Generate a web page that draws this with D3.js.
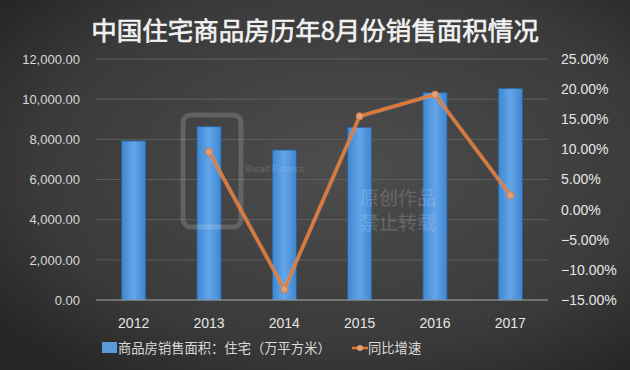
<!DOCTYPE html>
<html>
<head>
<meta charset="utf-8">
<script src="https://cdn.jsdelivr.net/npm/d3@7"></script>
<style>
  html, body { margin: 0; padding: 0; background: #333; }
  svg { display: block; }
  text { font-family: "Noto Sans CJK SC", "Noto Sans", sans-serif; }
</style>
</head>
<body>
<svg id="chart" width="630" height="370"></svg>
<script>
// ── Data ──────────────────────────────────────────────────────────────────
const years = ['2012', '2013', '2014', '2015', '2016', '2017'];
const salesArea = [7920, 8630, 7470, 8600, 10320, 10540];   // 万平方米
const yoyGrowth = [null, 9.6, -13.2, 15.5, 19.1, 2.4];      // %
const leftTicks = [0, 2000, 4000, 6000, 8000, 10000, 12000];
const rightTicks = [-15, -10, -5, 0, 5, 10, 15, 20, 25];

const W = 630, H = 370;
const m = { top: 59, right: 82, bottom: 70, left: 96 };

const svg = d3.select('#chart');
const defs = svg.append('defs');

// background: dark radial glow
const bg = defs.append('radialGradient').attr('id', 'bg')
  .attr('cx', '55%').attr('cy', '45%').attr('r', '70%');
bg.append('stop').attr('offset', '0%').attr('stop-color', '#4d4d4d');
bg.append('stop').attr('offset', '70%').attr('stop-color', '#3a3a3a');
bg.append('stop').attr('offset', '100%').attr('stop-color', '#262626');
svg.append('rect').attr('width', W).attr('height', H).attr('fill', 'url(#bg)');

const barGrad = defs.append('linearGradient').attr('id', 'barGrad')
  .attr('x1', 0).attr('x2', 1).attr('y1', 0).attr('y2', 0);
barGrad.append('stop').attr('offset', '0%').attr('stop-color', '#3f86cf');
barGrad.append('stop').attr('offset', '50%').attr('stop-color', '#63a5e8');
barGrad.append('stop').attr('offset', '100%').attr('stop-color', '#3f86cf');

// ── Scales ────────────────────────────────────────────────────────────────
const x = d3.scaleBand().domain(years).range([m.left, W - m.right]).paddingInner(0.68).paddingOuter(0.34);
const y = d3.scaleLinear().domain([0, 12000]).range([H - m.bottom, m.top]);
const y2 = d3.scaleLinear().domain([-15, 25]).range([H - m.bottom, m.top]);

// gridlines
svg.append('g').selectAll('line').data(leftTicks.slice(1)).join('line')
  .attr('x1', m.left).attr('x2', W - m.right)
  .attr('y1', d => y(d)).attr('y2', d => y(d))
  .attr('stroke', '#5e5e5e').attr('stroke-width', 1);

// title
svg.append('text')
  .attr('x', 315).attr('y', 40)
  .attr('text-anchor', 'middle')
  .attr('fill', '#f2f2f2').attr('font-size', 25.5).attr('font-weight', 'normal')
  .attr('stroke', '#f2f2f2').attr('stroke-width', 0.6)
  .text('中国住宅商品房历年8月份销售面积情况');

// bars
svg.append('g').selectAll('rect').data(salesArea).join('rect')
  .attr('x', (d, i) => x(years[i]))
  .attr('y', d => y(d))
  .attr('width', x.bandwidth())
  .attr('height', d => y(0) - y(d))
  .attr('fill', 'url(#barGrad)')
  .attr('stroke', '#2c5f92').attr('stroke-width', 0.8);

// watermark (sits over the bars)
const wm = svg.append('g').attr('opacity', 0.16).attr('fill', '#ffffff');
wm.append('rect').attr('x', 183).attr('y', 115).attr('width', 58).attr('height', 112)
  .attr('rx', 8).attr('fill', 'none').attr('stroke', '#fff').attr('stroke-width', 5);
wm.append('text').attr('x', 245).attr('y', 172).attr('font-size', 9).text('Bread Finance');
wm.append('text').attr('x', 360).attr('y', 205).attr('font-size', 19).text('原创作品');
wm.append('text').attr('x', 360).attr('y', 230).attr('font-size', 19).text('禁止转载');

// x axis line
svg.append('line')
  .attr('x1', m.left).attr('x2', W - m.right)
  .attr('y1', y(0)).attr('y2', y(0))
  .attr('stroke', '#a8a8a8').attr('stroke-width', 1.2);

// left axis
const yAxis = svg.append('g')
  .attr('transform', `translate(${m.left - 16},0)`)
  .call(d3.axisLeft(y).tickValues(leftTicks).tickSize(0).tickPadding(0)
    .tickFormat(d3.format(',.2f')));
yAxis.select('.domain').remove();
yAxis.selectAll('text').attr('fill', '#d9d9d9').attr('font-size', 13)
  .style('font-family', '"Liberation Sans", "DejaVu Sans", sans-serif');

// right axis
const y2Axis = svg.append('g')
  .attr('transform', `translate(${W - m.right + 13},0)`)
  .call(d3.axisRight(y2).tickValues(rightTicks).tickSize(0).tickPadding(0)
    .tickFormat(d => d3.format('.2f')(d) + '%'));
y2Axis.select('.domain').remove();
y2Axis.selectAll('text').attr('fill', '#e6e6e6').attr('font-size', 14)
  .style('font-family', '"Liberation Sans", "DejaVu Sans", sans-serif');

// bottom labels
svg.append('g').selectAll('text').data(years).join('text')
  .attr('x', d => x(d) + x.bandwidth() / 2)
  .attr('y', H - m.bottom + 28)
  .attr('text-anchor', 'middle')
  .attr('fill', '#e6e6e6').attr('font-size', 14)
  .style('font-family', '"Liberation Sans", "DejaVu Sans", sans-serif')
  .text(d => d);

// growth line
const pts = yoyGrowth.map((v, i) => ({ year: years[i], v })).filter(d => d.v !== null);
const line = d3.line()
  .x(d => x(d.year) + x.bandwidth() / 2)
  .y(d => y2(d.v));
svg.append('path').datum(pts)
  .attr('d', line)
  .attr('fill', 'none')
  .attr('stroke', '#f0a070').attr('stroke-width', 4).attr('stroke-opacity', 0.6);
svg.append('path').datum(pts)
  .attr('d', line)
  .attr('fill', 'none')
  .attr('stroke', '#e8772e').attr('stroke-width', 2.2);
svg.append('g').selectAll('circle').data(pts).join('circle')
  .attr('cx', d => x(d.year) + x.bandwidth() / 2)
  .attr('cy', d => y2(d.v))
  .attr('r', 3.5)
  .attr('fill', '#e0a17a').attr('stroke', '#d9773a').attr('stroke-width', 1);

// legend
const lg = svg.append('g').attr('transform', 'translate(0,348)');
lg.append('rect').attr('x', 102).attr('y', -6).attr('width', 15).attr('height', 11)
  .attr('fill', '#5b9bd5');
lg.append('text').attr('x', 118).attr('y', 5)
  .attr('fill', '#d9d9d9').attr('font-size', 13.3)
  .text('商品房销售面积：住宅（万平方米）');
lg.append('line').attr('x1', 352).attr('x2', 368).attr('y1', 0).attr('y2', 0)
  .attr('stroke', '#e8772e').attr('stroke-width', 2.5);
lg.append('circle').attr('cx', 360).attr('cy', 0).attr('r', 3)
  .attr('fill', '#e0a17a');
lg.append('text').attr('x', 368).attr('y', 5)
  .attr('fill', '#d9d9d9').attr('font-size', 13.3)
  .text('同比增速');
</script>
</body>
</html>
